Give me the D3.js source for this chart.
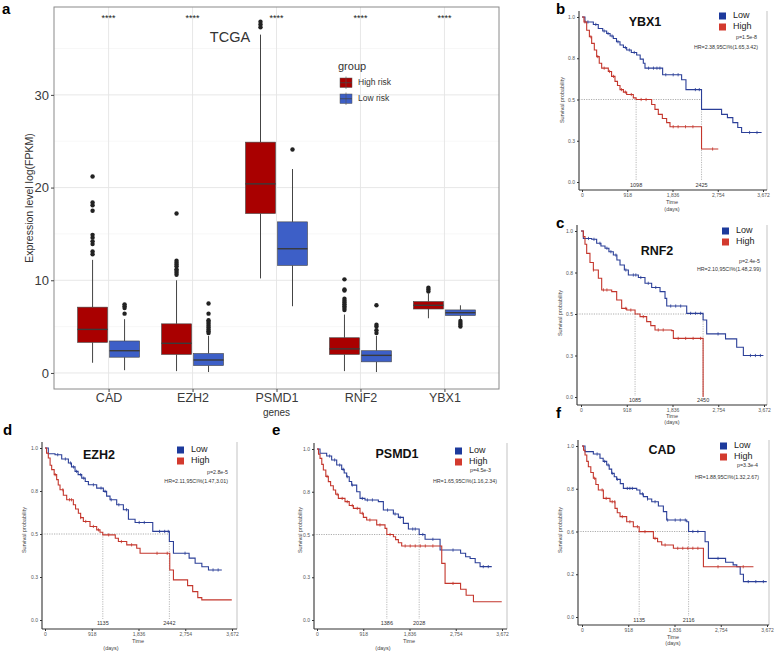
<!DOCTYPE html>
<html><head><meta charset="utf-8">
<script src="https://cdn.jsdelivr.net/npm/d3@7"></script>
<style>
body{margin:0;background:#fff}
svg{display:block}
text{font-family:Arial,"Liberation Sans",sans-serif}
</style>
</head><body>
<svg id="chart" width="776" height="658"></svg>
<script>
// ---------------- Panel a : box plot data ----------------
const genes = ["CAD","EZH2","PSMD1","RNF2","YBX1"];
const groups = ["High risk","Low risk"];
const yTicksA = [0,10,20,30];
const highLo  = [1.1, 0.2, 10.2, 0.2, 5.9];
const highQ1  = [3.3, 2.0, 17.2, 2.0, 6.9];
const highMed = [4.7, 3.2, 20.4, 2.6, 7.3];
const highQ3  = [7.1, 5.3, 24.9, 3.8, 7.7];
const highHi  = [12.2, 10.0, 36.5, 6.3, 8.6];
const highOut = [[12.8,13.1,13.9,14.2,14.6,14.9,17.5,18.1,18.4,21.2],
                 [10.6,10.8,11.0,11.2,11.5,11.7,11.9,12.1,17.2],
                 [37.3,37.6,37.9],
                 [6.8,7.0,7.2,7.4,7.6,7.8,8.0,8.9,9.0,10.1],
                 [8.8,9.0,9.2]];
const lowLo  = [0.3, 0.1, 7.2, 0.1, 5.8];
const lowQ1  = [1.7, 0.8, 11.6, 1.2, 6.2];
const lowMed = [2.4, 1.4, 13.4, 1.9, 6.5];
const lowQ3  = [3.45, 2.1, 16.3, 2.4, 6.8];
const lowHi  = [5.8, 4.0, 22.0, 4.0, 7.3];
const lowOut = [[6.4,7.0,7.2,7.4],
                [4.3,4.5,4.7,4.9,5.1,5.3,5.5,5.7,6.4,7.5],
                [24.1],
                [4.3,4.6,5.0,5.2,7.3],
                [5.0,5.2,5.4,5.6]];
const sigLabels = ["****","****","****","****","****"];

// ---------------- KM panels data ([time, survival]) ----------------
const kmTicks = [0,918,1836,2754,3672];
const ybx1Low = [[0,1],[60,.97],[230,.955],[330,.93],[420,.915],[500,.9],[570,.885],[635,.87],[700,.85],[771,.83],[840,.815],[906,.8],[1000,.785],[1109,.77],[1180,.745],[1244,.72],[1278,.69],[1636,.65],[2021,.62],[2109,.56],[2425,.44],[2832,.41],[2950,.39],[3060,.36],[3160,.33],[3238,.30],[3644,.30]];
const ybx1High = [[0,1],[40,.97],[95,.92],[150,.88],[196,.84],[250,.80],[297,.76],[350,.72],[399,.69],[534,.67],[600,.64],[669,.61],[720,.585],[771,.56],[840,.545],[906,.53],[1041,.51],[1098,.50],[1413,.47],[1480,.44],[1548,.41],[1630,.385],[1717,.36],[1785,.335],[2425,.20],[2765,.20]];
const ybx1LowCens = [120,280,450,530,610,730,880,960,1060,1350,1450,1520,1580,1700,1850,1950,2300,2380,3400,3550];
const ybx1HighCens = [60,180,320,450,560,640,800,880,1000,1200,1300,1850,1950,2100,2250,2650];

const rnf2Low = [[0,1],[47,.955],[214,.95],[314,.926],[400,.91],[482,.896],[560,.875],[649,.855],[720,.825],[783,.795],[870,.765],[950,.735],[1151,.72],[1284,.685],[1418,.66],[1586,.635],[1686,.594],[1720,.548],[2121,.504],[2450,.464],[2522,.38],[2723,.38],[2900,.35],[3124,.30],[3258,.25],[3660,.25]];
const rnf2High = [[0,1],[47,.966],[80,.92],[114,.865],[180,.81],[248,.765],[348,.715],[415,.645],[616,.635],[716,.584],[816,.534],[917,.524],[1085,.50],[1184,.484],[1318,.454],[1400,.43],[1485,.404],[1820,.40],[1853,.353],[2440,.353],[2450,0]];
const rnf2LowCens = [150,260,380,520,600,700,900,1050,1100,1200,1350,1500,1800,1900,2000,2200,2300,2400,2750,3400,3500,3600];
const rnf2HighCens = [250,450,520,900,1000,1250,1550,1650,1950,2100,2250,2400];

const ezh2Low = [[0,1],[65,.967],[197,.961],[328,.936],[459,.913],[520,.89],[590,.864],[650,.845],[721,.825],[790,.805],[852,.786],[1015,.767],[1146,.748],[1210,.72],[1277,.699],[1408,.67],[1539,.641],[1638,.586],[1769,.567],[2116,.515],[2442,.456],[2522,.388],[2718,.388],[2830,.36],[2948,.33],[3080,.31],[3210,.291],[3472,.291]];
const ezh2High = [[0,1],[30,.97],[65,.942],[100,.90],[131,.874],[180,.845],[229,.816],[260,.785],[295,.757],[360,.725],[426,.699],[557,.67],[600,.645],[655,.621],[700,.595],[753,.573],[884,.544],[1015,.524],[1080,.51],[1135,.495],[1380,.475],[1441,.456],[1605,.437],[1801,.417],[1867,.388],[2450,.291],[2522,.233],[2718,.233],[2800,.20],[2900,.165],[3000,.13],[3079,.117],[3668,.117]];
const ezh2LowCens = [250,400,500,560,620,700,760,950,1100,1180,1300,1450,1600,1850,1950,2250,2350,2420,2750,3300,3400];
const ezh2HighCens = [200,350,480,520,700,800,950,1050,1250,1500,1700,2200,2400];

const psmd1Low = [[0,1],[60,.975],[192,.959],[291,.936],[391,.906],[490,.881],[540,.86],[589,.838],[640,.81],[688,.789],[788,.75],[854,.711],[953,.702],[1218,.692],[1317,.643],[1516,.62],[1615,.6],[1715,.565],[1814,.532],[2028,.50],[2145,.472],[2443,.409],[2741,.409],[2850,.39],[2950,.37],[3039,.36],[3140,.335],[3237,.312],[3469,.312]];
const psmd1High = [[0,1],[30,.97],[60,.945],[95,.91],[126,.877],[175,.84],[225,.809],[270,.785],[324,.76],[370,.735],[424,.711],[556,.692],[640,.67],[722,.653],[854,.624],[920,.60],[986,.585],[1185,.556],[1350,.536],[1386,.50],[1516,.487],[1560,.47],[1615,.452],[1681,.433],[2410,.433],[2476,.331],[2542,.214],[2741,.214],[2850,.18],[2960,.145],[3105,.107],[3667,.107]];
const psmd1LowCens = [250,350,450,520,600,700,900,1000,1100,1400,1550,1650,1900,1950,2100,2300,2700,3300,3400];
const psmd1HighCens = [200,400,500,600,700,800,900,1050,1250,1450,1750,1850,1950,2050,2150,2300,2700];

const cadLow = [[0,1],[60,.967],[225,.953],[357,.928],[420,.91],[490,.889],[540,.865],[589,.84],[640,.82],[688,.805],[760,.78],[821,.752],[1086,.743],[1150,.72],[1218,.704],[1300,.69],[1384,.674],[1516,.649],[1615,.616],[1681,.567],[2079,.557],[2116,.50],[2443,.44],[2509,.343],[2708,.343],[2850,.32],[3000,.305],[3072,.294],[3140,.25],[3204,.207],[3667,.207]];
const cadHigh = [[0,1],[30,.975],[60,.947],[95,.91],[126,.879],[175,.845],[225,.811],[275,.775],[324,.743],[424,.694],[556,.674],[655,.635],[700,.61],[755,.587],[887,.557],[1019,.528],[1135,.499],[1417,.46],[1500,.44],[1582,.421],[1814,.402],[2410,.294],[3403,.294]];
const cadLowCens = [300,450,520,600,700,900,950,1000,1200,1300,1450,1700,1850,1950,2050,2200,2300,2700,3300,3450,3600];
const cadHighCens = [250,400,480,600,650,800,950,1100,1250,1450,1650,1900,2000,2100,2200,2300,2700,3200];

// ---------------- Drawing ----------------
const svg = d3.select("#chart");
const RED = "#a90000", BLUE = "#3d5fc7";

// ===== Panel a =====
(function(){
  const L=54,R=499,T=7,B=389;
  const x = d3.scalePoint().domain(genes).range([L,R]).padding(0.65);
  const y = d3.scaleLinear().domain([-1.73,39.48]).range([B,T]);
  const g = svg.append("g");
  const minor=[5,15,25,35];
  g.selectAll(".mn").data(minor).join("line").attr("x1",L).attr("x2",R)
    .attr("y1",d=>y(d)).attr("y2",d=>y(d)).attr("stroke","#f1f1f1").attr("stroke-width",0.6);
  g.selectAll(".mj").data(yTicksA).join("line").attr("x1",L).attr("x2",R)
    .attr("y1",d=>y(d)).attr("y2",d=>y(d)).attr("stroke","#e4e4e4").attr("stroke-width",0.9);
  g.selectAll(".vg").data(genes).join("line").attr("x1",d=>x(d)).attr("x2",d=>x(d))
    .attr("y1",T).attr("y2",B).attr("stroke","#e4e4e4").attr("stroke-width",0.9);
  const bw=30, off=16;
  const sets=[
    {lo:highLo,q1:highQ1,med:highMed,q3:highQ3,hi:highHi,out:highOut,col:RED,dx:-off},
    {lo:lowLo,q1:lowQ1,med:lowMed,q3:lowQ3,hi:lowHi,out:lowOut,col:BLUE,dx:off}];
  sets.forEach(s=>{
    genes.forEach((gn,i)=>{
      const cx=x(gn)+s.dx;
      g.append("line").attr("x1",cx).attr("x2",cx).attr("y1",y(s.lo[i])).attr("y2",y(s.q1[i]))
        .attr("stroke","#444").attr("stroke-width",1);
      g.append("line").attr("x1",cx).attr("x2",cx).attr("y1",y(s.q3[i])).attr("y2",y(s.hi[i]))
        .attr("stroke","#444").attr("stroke-width",1);
      g.append("rect").attr("x",cx-bw/2).attr("width",bw).attr("y",y(s.q3[i]))
        .attr("height",y(s.q1[i])-y(s.q3[i])).attr("fill",s.col).attr("stroke","#444").attr("stroke-width",0.6);
      g.append("line").attr("x1",cx-bw/2).attr("x2",cx+bw/2).attr("y1",y(s.med[i])).attr("y2",y(s.med[i]))
        .attr("stroke","#3a3a3a").attr("stroke-width",1.4);
      g.selectAll(null).data(s.out[i]).join("circle").attr("cx",cx).attr("cy",d=>y(d))
        .attr("r",2.2).attr("fill","#222");
    });
  });
  g.append("rect").attr("x",L).attr("y",T).attr("width",R-L).attr("height",B-T)
    .attr("fill","none").attr("stroke","#8a8a8a").attr("stroke-width",1);
  const ay = g.append("g").attr("transform",`translate(${L},0)`)
    .call(d3.axisLeft(y).tickValues(yTicksA).tickSize(3).tickPadding(2));
  ay.select(".domain").remove();
  ay.selectAll("line").attr("stroke","#444");
  ay.selectAll("text").attr("font-size",13).attr("fill","#3a3a3a");
  const ax = g.append("g").attr("transform",`translate(0,${B})`)
    .call(d3.axisBottom(x).tickSize(3).tickPadding(1.5));
  ax.select(".domain").remove();
  ax.selectAll("line").attr("stroke","#444");
  ax.selectAll("text").attr("font-size",12.5).attr("fill","#3a3a3a");
  g.selectAll(".sig").data(genes).join("text").attr("x",d=>x(d)).attr("y",21)
    .attr("text-anchor","middle").attr("font-size",9).attr("fill","#222").text((d,i)=>sigLabels[i]);
  g.append("text").attr("x",L+(R-L)/2).attr("y",416).attr("text-anchor","middle")
    .attr("font-size",10).attr("fill","#333").text("genes");
  g.append("text").attr("transform",`translate(33,198) rotate(-90)`).attr("text-anchor","middle")
    .attr("font-size",10.5).attr("fill","#333").text("Expression level log(FPKM)");
  g.append("text").attr("x",230).attr("y",42).attr("text-anchor","middle")
    .attr("font-family","'Liberation Serif','DejaVu Serif',serif").attr("font-size",14.5).attr("fill","#333").text("TCGA");
  g.append("text").attr("x",338).attr("y",70).attr("font-size",11).attr("fill","#333").text("group");
  [{c:RED,t:groups[0],y:78},{c:BLUE,t:groups[1],y:94}].forEach(k=>{
    g.append("rect").attr("x",340).attr("y",k.y).attr("width",12).attr("height",9.5)
      .attr("fill",k.c).attr("stroke","#555").attr("stroke-width",0.5);
    g.append("line").attr("x1",346).attr("x2",346).attr("y1",k.y-1.5).attr("y2",k.y+11)
      .attr("stroke","#555").attr("stroke-width",0.6);
    g.append("line").attr("x1",340).attr("x2",352).attr("y1",k.y+4.75).attr("y2",k.y+4.75)
      .attr("stroke","#444").attr("stroke-width",0.8);
    g.append("text").attr("x",358).attr("y",k.y+5).attr("dominant-baseline","middle")
      .attr("font-size",8.5).attr("fill","#333").text(k.t);
  });
  svg.append("text").attr("x",2).attr("y",14).attr("font-size",15).attr("font-weight","bold").text("a");
})();

// ===== KM panels =====
function km(p){
  const g = svg.append("g");
  const xs = d3.scaleLinear().domain([0,3672]).range([p.x0,p.x1]);
  const ys = d3.scaleLinear().domain([0,1]).range([p.yBot,p.yTop]);
  g.append("line").attr("x1",p.rightX).attr("x2",p.rightX).attr("y1",p.yTop-6).attr("y2",p.axisY)
    .attr("stroke","#9a9a9a").attr("stroke-width",0.6);
  g.append("line").attr("x1",p.yAxisX).attr("x2",p.rightX).attr("y1",p.axisY).attr("y2",p.axisY)
    .attr("stroke","#333").attr("stroke-width",1.1);
  g.append("line").attr("x1",p.yAxisX).attr("x2",p.yAxisX).attr("y1",p.yTop-6).attr("y2",p.axisY)
    .attr("stroke","#333").attr("stroke-width",1.1);
  const axb = g.append("g").attr("transform",`translate(0,${p.axisY})`)
    .call(d3.axisBottom(xs).tickValues(kmTicks).tickFormat(d3.format(",")).tickSize(2).tickPadding(1.5));
  axb.select(".domain").remove();
  axb.selectAll("line").attr("stroke","#333");
  axb.selectAll("text").attr("font-size",5).attr("fill","#555");
  const axl = g.append("g").attr("transform",`translate(${p.yAxisX},0)`)
    .call(d3.axisLeft(ys).tickValues([0,0.25,0.5,0.75,1]).tickFormat((d,i)=>p.yLabels[i]).tickSize(2).tickPadding(2));
  axl.select(".domain").remove();
  axl.selectAll("line").attr("stroke","#333");
  axl.selectAll("text").attr("font-size",5).attr("fill","#555");
  g.append("text").attr("x",p.timeX).attr("y",p.timeY).attr("text-anchor","middle")
    .attr("font-size",5.5).attr("fill","#444").text("Time");
  g.append("text").attr("x",p.daysX).attr("y",p.daysY).attr("text-anchor","middle")
    .attr("font-size",5.5).attr("fill","#444").text("(days)");
  g.append("text").attr("transform",`translate(${p.ylabX},${p.ylabY}) rotate(-90)`).attr("text-anchor","middle")
    .attr("font-size",5.5).attr("fill","#444").text("Survival probability");
  const mMax = d3.max(p.medians);
  g.append("line").attr("x1",p.yAxisX).attr("x2",xs(mMax)).attr("y1",ys(0.5)).attr("y2",ys(0.5))
    .attr("stroke","#777").attr("stroke-width",0.6).attr("stroke-dasharray","1.2,1.2");
  p.medians.forEach(m=>{
    g.append("line").attr("x1",xs(m)).attr("x2",xs(m)).attr("y1",ys(0.5)).attr("y2",p.yBot-1)
      .attr("stroke","#888").attr("stroke-width",0.6).attr("stroke-dasharray","1.2,1.2");
    g.append("text").attr("x",xs(m)).attr("y",p.yBot+5).attr("text-anchor","middle")
      .attr("font-size",5.5).attr("fill","#333").text(m);
  });
  const line = d3.line().x(d=>xs(d[0])).y(d=>ys(d[1])).curve(d3.curveStepAfter);
  const surv=(curve,t)=>{let s=1;for(const d of curve){if(d[0]<=t)s=d[1];else break;}return s;};
  [{c:p.low,cens:p.lowCens,col:"#2b3f98"},{c:p.high,cens:p.highCens,col:"#c4362c"}].forEach(k=>{
    g.append("path").attr("d",line(k.c)).attr("fill","none").attr("stroke",k.col).attr("stroke-width",1.1);
    g.selectAll(null).data(k.cens).join("line")
      .attr("x1",d=>xs(d)).attr("x2",d=>xs(d))
      .attr("y1",d=>ys(surv(k.c,d))-1.6).attr("y2",d=>ys(surv(k.c,d))+1.6)
      .attr("stroke",k.col).attr("stroke-width",0.8);
  });
  g.append("text").attr("x",p.titleX).attr("y",p.titleY).attr("text-anchor","middle").attr("dominant-baseline","middle")
    .attr("font-family","'Open Sans',Arial,sans-serif").attr("font-weight","bold").attr("font-size",12.5).attr("fill","#111").text(p.title);
  [{col:"#1d3a9c",t:"Low",y:p.legY},{col:"#d33a2e",t:"High",y:p.legY+11}].forEach(k=>{
    g.append("rect").attr("x",p.sqX).attr("y",k.y-3.5).attr("width",7).attr("height",7).attr("fill",k.col);
    g.append("text").attr("x",p.sqX+14).attr("y",k.y).attr("dominant-baseline","middle")
      .attr("font-family","'Open Sans',Arial,sans-serif").attr("font-size",9).attr("fill","#222").text(k.t);
  });
  g.append("text").attr("x",p.pX).attr("y",p.pY).attr("text-anchor","end").attr("dominant-baseline","middle")
    .attr("font-size",5.3).attr("fill","#333").text(p.pText);
  g.append("text").attr("x",p.hrX).attr("y",p.hrY).attr("text-anchor","end").attr("dominant-baseline","middle")
    .attr("font-size",5.3).attr("fill","#333").text(p.hrText);
  svg.append("text").attr("x",p.letX).attr("y",p.letY).attr("font-size",15).attr("font-weight","bold").text(p.letter);
}

const labs1 = ["0.0","0.3","0.5","0.8","1.0"];
const labsF = ["0.0","0.2","0.6","0.8","1.0"];

km({letter:"b",letX:556,letY:14,title:"YBX1",titleX:645,titleY:23,
  x0:582,x1:763,yTop:17,yBot:182,axisY:190,yAxisX:579,rightX:767,
  timeX:672,timeY:204,daysX:672,daysY:211,ylabX:564,ylabY:100,yLabels:labs1,
  low:ybx1Low,high:ybx1High,lowCens:ybx1LowCens,highCens:ybx1HighCens,medians:[1098,2425],
  sqX:719,legY:16,pX:757,pY:38,pText:"p=1.5e-8",hrX:758,hrY:48,hrText:"HR=2.38,95CI%(1.65,3.42)"});

km({letter:"c",letX:556,letY:228,title:"RNF2",titleX:657,titleY:252,
  x0:581,x1:764,yTop:231,yBot:397,axisY:405,yAxisX:577,rightX:767,
  timeX:672,timeY:418,daysX:672,daysY:424,ylabX:562,ylabY:313,yLabels:labs1,
  low:rnf2Low,high:rnf2High,lowCens:rnf2LowCens,highCens:rnf2HighCens,medians:[1085,2450],
  sqX:722,legY:231,pX:760,pY:262,pText:"p=2.4e-5",hrX:761,hrY:270,hrText:"HR=2.10,95CI%(1.48,2.99)"});

km({letter:"d",letX:3,letY:435,title:"EZH2",titleX:99,titleY:456,
  x0:45,x1:232,yTop:448,yBot:620,axisY:629,yAxisX:42,rightX:237,
  timeX:138,timeY:643,daysX:111,daysY:650,ylabX:26,ylabY:530,yLabels:labs1,
  low:ezh2Low,high:ezh2High,lowCens:ezh2LowCens,highCens:ezh2HighCens,medians:[1135,2442],
  sqX:177,legY:450,pX:228,pY:473,pText:"p=2.8e-5",hrX:228,hrY:482,hrText:"HR=2.11,95CI%(1.47,3.01)"});

km({letter:"e",letX:272,letY:435,title:"PSMD1",titleX:397,titleY:455,
  x0:317,x1:502,yTop:449,yBot:620,axisY:629,yAxisX:314,rightX:507,
  timeX:409,timeY:643,daysX:383,daysY:650,ylabX:302,ylabY:530,yLabels:labs1,
  low:psmd1Low,high:psmd1High,lowCens:psmd1LowCens,highCens:psmd1HighCens,medians:[1386,2028],
  sqX:455,legY:451,pX:491,pY:471,pText:"p=4.5e-3",hrX:497,hrY:482,hrText:"HR=1.65,95CI%(1.16,2.34)"});

km({letter:"f",letX:556,letY:418,title:"CAD",titleX:662,titleY:451,
  x0:582,x1:767,yTop:446,yBot:617,axisY:625,yAxisX:578,rightX:769,
  timeX:673,timeY:639,daysX:673,daysY:645,ylabX:562,ylabY:530,yLabels:labsF,
  low:cadLow,high:cadHigh,lowCens:cadLowCens,highCens:cadHighCens,medians:[1135,2116],
  sqX:720,legY:446,pX:758,pY:466,pText:"p=3.3e-4",hrX:759,hrY:478,hrText:"HR=1.88,95CI%(1.32,2.67)"});
</script>
</body></html>
